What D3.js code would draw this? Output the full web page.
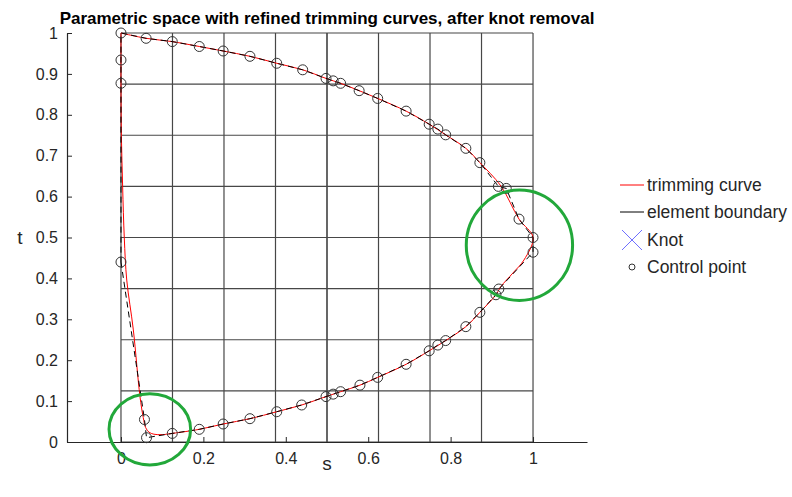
<!DOCTYPE html>
<html>
<head>
<meta charset="utf-8">
<script src="https://cdn.jsdelivr.net/npm/d3@7"></script>
<style>
  html, body { margin: 0; padding: 0; background: #fff; }
  svg { display: block; font-family: "Liberation Sans", Arial, sans-serif; }
</style>
</head>
<body>
<svg id="chart" width="792" height="497"></svg>
<script>
// Tick labels
const sTicks = [0, 0.2, 0.4, 0.6, 0.8, 1];
const tTicks = [0, 0.1, 0.2, 0.3, 0.4, 0.5, 0.6, 0.7, 0.8, 0.9, 1];

// Element boundaries (knot lines of the refined mesh)
const boundaryS = [0, 0.125, 0.25, 0.375, 0.5, 0.625, 0.75, 0.875, 1];
const boundaryT = [0, 0.125, 0.25, 0.375, 0.5, 0.625, 0.75, 0.875, 1];

// Control polygon of the trimming curve, in order
const ctrlS = [0, 0.057, 0.062, 0.1245, 0.19, 0.248, 0.313, 0.378, 0.4386, 0.4976, 0.515, 0.533,
  0.58, 0.623, 0.692, 0.748, 0.769, 0.788, 0.837, 0.871, 0.91, 0.917, 1.0, 1.0, 0.966, 0.935,
  0.916, 0.871, 0.837, 0.788, 0.769, 0.748, 0.692, 0.623, 0.578, 0.533, 0.515, 0.4976, 0.441,
  0.378, 0.313, 0.248, 0.19, 0.1245, 0.061, 0, 0, 0, 0];
const ctrlT = [0.44, 0.055, 0.0105, 0.021, 0.031, 0.044, 0.057, 0.074, 0.0905, 0.111, 0.117, 0.123,
  0.139, 0.158, 0.19, 0.223, 0.237, 0.248, 0.282, 0.317, 0.36, 0.374, 0.464, 0.5, 0.545, 0.62,
  0.625, 0.683, 0.718, 0.751, 0.765, 0.777, 0.809, 0.84, 0.859, 0.877, 0.883, 0.889, 0.91,
  0.926, 0.943, 0.956, 0.967, 0.979, 0.987, 1, 0.934, 0.877, 0.44];
// the last vertex closes the polygon; markers skip it
const markerCount = ctrlS.length - 1;

// Trimming curve, sampled along its path
const curveS = [0, 0, 0, 0.001, 0.004, 0.008, 0.014, 0.03, 0.046, 0.054, 0.06, 0.068, 0.08, 0.1,
  0.1245, 0.19, 0.248, 0.313, 0.378, 0.4386, 0.4976, 0.533, 0.58, 0.623, 0.692, 0.748, 0.788,
  0.837, 0.871, 0.91, 0.922, 0.951, 0.978, 1.0, 0.966, 0.922, 0.871, 0.837, 0.788, 0.748, 0.692,
  0.623, 0.578, 0.533, 0.4976, 0.441, 0.378, 0.313, 0.248, 0.19, 0.1245, 0.061, 0];
const curveT = [1, 0.934, 0.877, 0.75, 0.625, 0.5, 0.396, 0.274, 0.112, 0.06, 0.035, 0.024, 0.019,
  0.018, 0.021, 0.031, 0.044, 0.057, 0.074, 0.0905, 0.111, 0.123, 0.139, 0.158, 0.19, 0.223,
  0.248, 0.282, 0.317, 0.36, 0.38, 0.413, 0.445, 0.5, 0.545, 0.626, 0.683, 0.718, 0.751, 0.777,
  0.809, 0.84, 0.859, 0.877, 0.889, 0.91, 0.926, 0.943, 0.956, 0.967, 0.979, 0.987, 1];

// Highlight rings (centre s, centre t, radius s, radius t)
const ringS = [0.07, 0.967];
const ringT = [0.031, 0.481];
const ringRS = [0.099, 0.129];
const ringRT = [0.087, 0.135];

const legendLabels = ["trimming curve", "element boundary", "Knot", "Control point"];

const svg = d3.select("#chart");
const x = d3.scaleLinear().domain([-0.131, 1.131]).range([67, 587]);
const y = d3.scaleLinear().domain([0, 1]).range([442, 33]);

const axisColor = "#262626";
const fontStack = "'Liberation Sans', Arial, sans-serif";

// Element boundaries
const grid = svg.append("g");
boundaryS.forEach(s => {
  grid.append("line")
    .attr("x1", x(s)).attr("x2", x(s))
    .attr("y1", y(0)).attr("y2", y(1))
    .attr("stroke", s === 0.5 ? "#000" : "#474747").attr("stroke-width", 1.2);
});
boundaryT.forEach(t => {
  grid.append("line")
    .attr("x1", x(0)).attr("x2", x(1))
    .attr("y1", y(t)).attr("y2", y(t))
    .attr("stroke", "#474747").attr("stroke-width", 1.2);
});

// Axes (left and bottom only, ticks pointing inward)
const xAxis = d3.axisBottom(x).tickValues(sTicks).tickSizeInner(-5).tickSizeOuter(0)
  .tickFormat(d3.format("~g")).tickPadding(11);
const yAxis = d3.axisLeft(y).tickValues(tTicks).tickSizeInner(-5).tickSizeOuter(0)
  .tickFormat(d3.format("~g")).tickPadding(9);

const gx = svg.append("g").attr("transform", `translate(0,${y(0)})`).call(xAxis);
const gy = svg.append("g").attr("transform", `translate(${x(-0.131)},0)`).call(yAxis);
[gx, gy].forEach(g => {
  g.select(".domain").attr("stroke", axisColor).attr("stroke-width", 1.2);
  g.selectAll(".tick line").attr("stroke", axisColor);
  g.selectAll(".tick text").attr("fill", axisColor)
    .style("font-size", "16px").style("font-family", fontStack);
});

// Trimming curve
const lineGen = d3.line()
  .x(i => x(curveS[i])).y(i => y(curveT[i]))
  .curve(d3.curveCatmullRom.alpha(0.5));
svg.append("path")
  .attr("d", lineGen(d3.range(curveS.length)))
  .attr("fill", "none").attr("stroke", "#ff0000").attr("stroke-width", 1);

// Control polygon
const polyGen = d3.line().x(i => x(ctrlS[i])).y(i => y(ctrlT[i]));
svg.append("path")
  .attr("d", polyGen(d3.range(ctrlS.length)))
  .attr("fill", "none").attr("stroke", "#000").attr("stroke-width", 1)
  .attr("stroke-dasharray", "6,4");

// Control points
svg.append("g").selectAll("circle")
  .data(d3.range(markerCount))
  .join("circle")
  .attr("cx", i => x(ctrlS[i])).attr("cy", i => y(ctrlT[i]))
  .attr("r", 5)
  .attr("fill", "none").attr("stroke", "#333").attr("stroke-width", 1);

// Highlight rings
svg.append("g").selectAll("ellipse")
  .data(d3.range(ringS.length))
  .join("ellipse")
  .attr("cx", i => x(ringS[i])).attr("cy", i => y(ringT[i]))
  .attr("rx", i => x(ringRS[i]) - x(0)).attr("ry", i => y(0) - y(ringRT[i]))
  .attr("fill", "none").attr("stroke", "#22a83a").attr("stroke-width", 3);

// Title
svg.append("text")
  .attr("x", (x(-0.131) + x(1.131)) / 2).attr("y", 24)
  .attr("text-anchor", "middle")
  .style("font-weight", "bold").style("font-size", "17px")
  .attr("fill", "#000")
  .text("Parametric space with refined trimming curves, after knot removal");

// Axis labels
svg.append("text")
  .attr("x", (x(-0.131) + x(1.131)) / 2).attr("y", 470)
  .attr("text-anchor", "middle").style("font-size", "19px").attr("fill", axisColor)
  .text("s");
svg.append("text")
  .attr("x", 20).attr("y", y(0.5)).attr("dy", "0.35em")
  .attr("text-anchor", "middle").style("font-size", "19px").attr("fill", axisColor)
  .text("t");

// Legend
const legend = svg.append("g");
const legendY = [185, 212, 240, 267];
const lx0 = 620, lx1 = 644, ltx = 647;
legend.append("line").attr("x1", lx0).attr("x2", lx1).attr("y1", legendY[0]).attr("y2", legendY[0])
  .attr("stroke", "#ff0000").attr("stroke-width", 1);
legend.append("line").attr("x1", lx0).attr("x2", lx1).attr("y1", legendY[1]).attr("y2", legendY[1])
  .attr("stroke", "#000").attr("stroke-width", 1);
const kx = (lx0 + lx1) / 2;
legend.append("path")
  .attr("d", `M${kx - 10},${legendY[2] - 10}L${kx + 10},${legendY[2] + 10}M${kx - 10},${legendY[2] + 10}L${kx + 10},${legendY[2] - 10}`)
  .attr("stroke", "#4a4aff").attr("stroke-width", 0.8).attr("fill", "none");
legend.append("circle").attr("cx", kx).attr("cy", legendY[3]).attr("r", 3)
  .attr("fill", "none").attr("stroke", "#333").attr("stroke-width", 1);
legendLabels.forEach((lab, i) => {
  legend.append("text").attr("x", ltx).attr("y", legendY[i]).attr("dy", "0.35em")
    .style("font-size", "17.5px").attr("fill", axisColor).text(lab);
});
</script>
</body>
</html>
